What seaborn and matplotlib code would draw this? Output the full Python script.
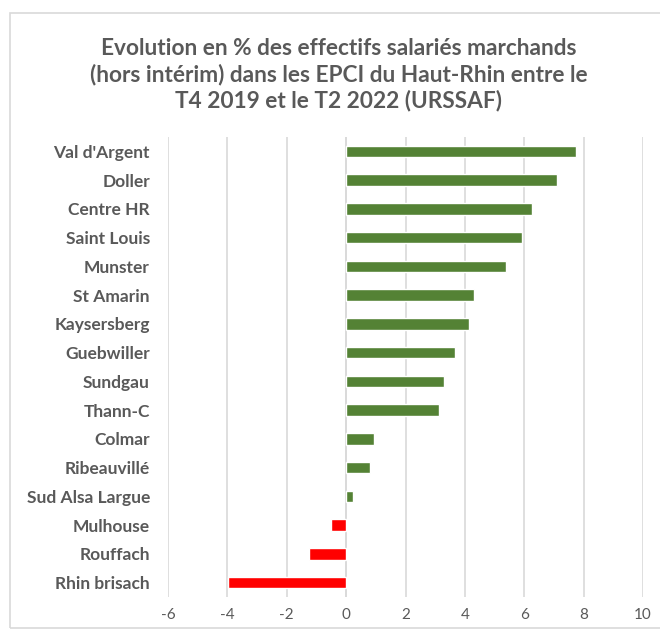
import pandas as pd
import seaborn as sns
import matplotlib.pyplot as plt
from matplotlib.patches import Rectangle

# EPCI du Haut-Rhin, evolution en %
epci = ["Val d'Argent", "Doller", "Centre HR", "Saint Louis", "Munster",
        "St Amarin", "Kaysersberg", "Guebwiller", "Sundgau", "Thann-C",
        "Colmar", "Ribeauvillé", "Sud Alsa Largue", "Mulhouse", "Rouffach",
        "Rhin brisach"]
evolution = [7.74, 7.09, 6.25, 5.91, 5.37, 4.31, 4.14, 3.67, 3.30, 3.14,
             0.94, 0.82, 0.22, -0.50, -1.24, -3.99]
xticks = [-6, -4, -2, 0, 2, 4, 6, 8, 10]

df = pd.DataFrame({"EPCI": epci, "Evolution": evolution})
colors = ["#548235" if v >= 0 else "#ff0000" for v in evolution]

sns.set_style("white")
plt.rcParams['font.family'] = ['Lato', 'DejaVu Sans']

fig = plt.figure(figsize=(6.6, 6.31), dpi=100)
# chart area border
fig.patches.append(Rectangle((10 / 660, 0.005), 660, 1 - 13 / 631 - 0.005,
                             transform=fig.transFigure, fill=False,
                             edgecolor="#d9d9d9", linewidth=1.2))
ax = fig.add_axes([168 / 660, 1 - 597 / 631, (643 - 168) / 660, (597 - 137) / 631])

sns.barplot(data=df, x="Evolution", y="EPCI", hue="EPCI", palette=colors,
            legend=False, width=0.4, orient="h", ax=ax, saturation=1)

ax.set_xlim(-6, 10)
ax.set_xticks(xticks)
ax.set_xticklabels([str(t) for t in xticks], color="#595959", fontsize=11)
ax.tick_params(axis="x", length=0, pad=8)
ax.tick_params(axis="y", length=0, pad=13)
for lbl in ax.get_yticklabels():
    lbl.set_fontweight("bold")
    lbl.set_color("#595959")
    lbl.set_fontsize(12.5)
ax.set_xlabel("")
ax.set_ylabel("")
ax.grid(axis="x", color="#d9d9d9", linewidth=1.2)
ax.set_axisbelow(True)
for s in ax.spines.values():
    s.set_visible(False)
ax.axvline(0, color="#d9d9d9", linewidth=1.2, zorder=0.5)

fig.text(0.513, 1 - 75 / 631,
         "Evolution en % des effectifs salariés marchands\n"
         "(hors intérim) dans les EPCI du Haut-Rhin entre le\n"
         "T4 2019 et le T2 2022 (URSSAF)",
         ha="center", va="center", fontsize=16.3, fontweight="bold",
         color="#595959", linespacing=1.25)

fig.savefig("out.png", dpi=100)
